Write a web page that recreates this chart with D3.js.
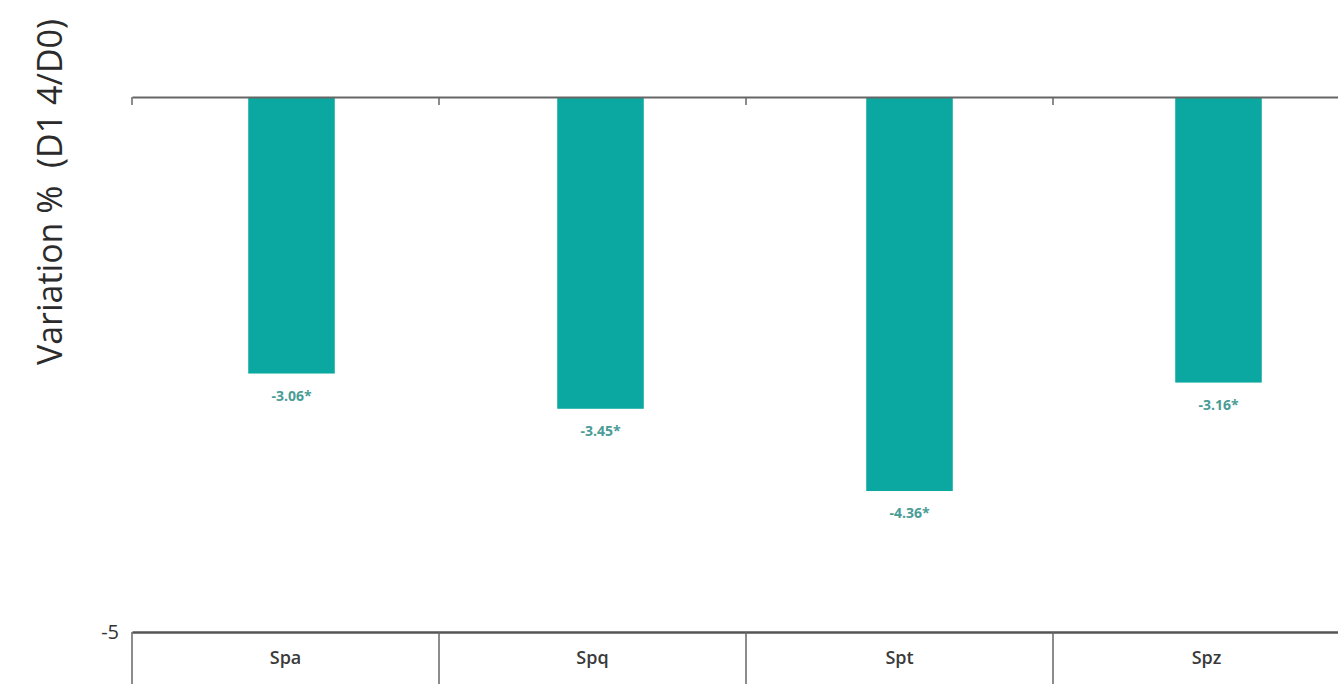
<!DOCTYPE html>
<html>
<head>
<meta charset="utf-8">
<script src="https://cdn.jsdelivr.net/npm/d3@7"></script>
<style>
  body { margin: 0; background: #fff; }
</style>
</head>
<body>
<div id="chart"></div>
<script>
"use strict";
// categories and values
const categories = ["Spa", "Spq", "Spt", "Spz"];
const values = [-3.06, -3.45, -4.36, -3.16];
const valueLabels = ["-3.06*", "-3.45*", "-4.36*", "-3.16*"];
const yDomain = [0, -5.92];
const yTickValues = [-5.92];
const yTickLabels = ["-5"];
const yTitle = "Variation %  (D1 4/D0)";

const width = 1338;
const height = 684;
const marginTop = 97;
const marginLeft = 132;
const axisBottom = 632;

const svg = d3.select("#chart").append("svg")
    .attr("width", width)
    .attr("height", height)
    .attr("viewBox", [0, 0, width, height])
    .style("font-family", "'Open Sans', 'Noto Sans', sans-serif");

// table columns (chart is cut on the right)
const xTable = d3.scaleBand()
    .domain(categories)
    .range([marginLeft, marginLeft + 307 * categories.length]);

// bars sit on a slightly wider step
const xBar = d3.scaleBand()
    .domain(categories)
    .range([137, 137 + 309 * categories.length])
    .paddingInner(0.72)
    .paddingOuter(0.36);

const y = d3.scaleLinear()
    .domain(yDomain)
    .range([marginTop, axisBottom]);

// bars
svg.append("g")
    .selectAll("rect")
    .data(values)
    .join("rect")
    .attr("x", (d, i) => xBar(categories[i]))
    .attr("y", y(0))
    .attr("width", xBar.bandwidth())
    .attr("height", d => y(d) - y(0))
    .attr("fill", "#0aa8a0");

// value labels under bars
svg.append("g")
    .selectAll("text")
    .data(values)
    .join("text")
    .attr("x", (d, i) => xBar(categories[i]) + xBar.bandwidth() / 2)
    .attr("y", d => y(d) + 27)
    .attr("text-anchor", "middle")
    .style("font-size", "14px")
    .style("font-weight", "bold")
    .style("fill", "#4a9c96")
    .text((d, i) => valueLabels[i]);

// zero line with small ticks
svg.append("g")
    .attr("transform", `translate(0,${y(0)})`)
    .call(d3.axisBottom(xTable).tickValues([]).tickSizeOuter(0))
    .call(g => g.select(".domain").attr("stroke", "#666").attr("stroke-width", 2))
    .call(g => g.selectAll(".sep")
        .data(categories)
        .join("line")
        .attr("x1", d => xTable(d))
        .attr("x2", d => xTable(d))
        .attr("y1", 0)
        .attr("y2", 8)
        .attr("stroke", "#666")
        .attr("stroke-width", 1.5));

// bottom table row with category names
const bottom = svg.append("g")
    .attr("transform", `translate(0,${axisBottom})`);

bottom.call(d3.axisBottom(xTable).tickSize(0).tickPadding(19).tickSizeOuter(0))
    .call(g => g.select(".domain").attr("stroke", "#555").attr("stroke-width", 2.5))
    .call(g => g.selectAll(".tick text")
        .style("font-size", "18px")
        .style("font-weight", "600")
        .style("font-family", "'Open Sans', 'Noto Sans', sans-serif")
        .style("fill", "#3a3a3a"));

bottom.selectAll(".sep")
    .data(categories)
    .join("line")
    .attr("x1", d => xTable(d))
    .attr("x2", d => xTable(d))
    .attr("y1", 0)
    .attr("y2", height - axisBottom)
    .attr("stroke", "#666")
    .attr("stroke-width", 1.5);

// y tick label
svg.append("g")
    .selectAll("text")
    .data(yTickValues)
    .join("text")
    .attr("x", marginLeft - 13)
    .attr("y", d => y(d))
    .attr("dy", "0.35em")
    .attr("text-anchor", "end")
    .style("font-size", "20px")
    .style("fill", "#333")
    .text((d, i) => yTickLabels[i]);

// y title
svg.append("text")
    .attr("transform", `translate(62,192) rotate(-90)`)
    .attr("text-anchor", "middle")
    .attr("xml:space", "preserve")
    .style("white-space", "pre")
    .style("font-size", "34px")
    .style("fill", "#2b2b2b")
    .text(yTitle);
</script>
</body>
</html>
